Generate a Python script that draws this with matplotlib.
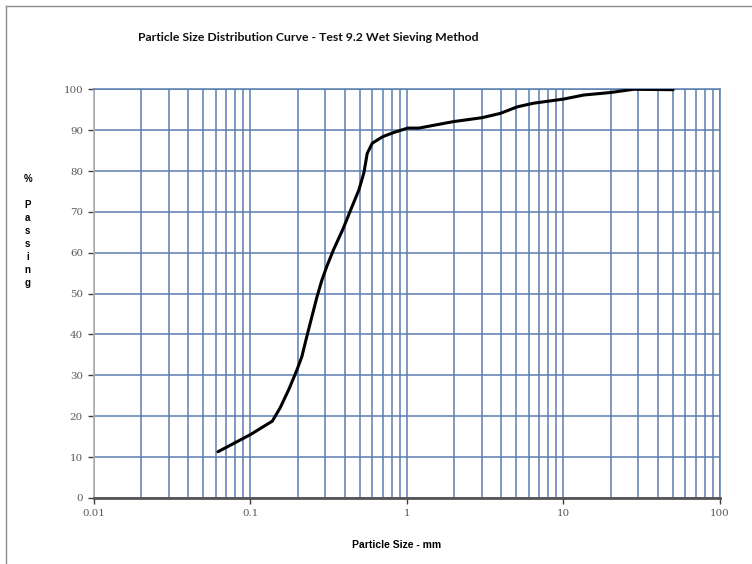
import matplotlib.pyplot as plt
from matplotlib.lines import Line2D
from matplotlib.ticker import LogLocator, FixedLocator, NullFormatter

# particle size (mm) vs % passing
size_mm = [0.062, 0.1, 0.138, 0.155, 0.176, 0.198, 0.213, 0.229, 0.247, 0.266,
           0.286, 0.307, 0.339, 0.39, 0.437, 0.493, 0.53, 0.557, 0.6, 0.7,
           0.82, 1.01, 1.19, 1.64, 1.99, 3.02, 3.95, 5.06, 6.46, 10.0,
           13.5, 19.9, 28.1, 50.2]
passing = [11.3, 15.5, 18.8, 22.1, 26.6, 31.3, 34.6, 39.5, 44.4, 49.2,
           53.3, 56.6, 60.7, 65.8, 70.5, 75.4, 79.5, 84.3, 86.8, 88.4,
           89.4, 90.5, 90.5, 91.5, 92.1, 93.05, 94.1, 95.7, 96.6, 97.6,
           98.6, 99.2, 100.0, 99.9]

x_ticks = [0.01, 0.1, 1, 10, 100]
x_tick_labels = ['0.01', '0.1', '1', '10', '100']
y_ticks = list(range(0, 101, 10))

grid_col = '#5b7fb0'
label_col = '#595959'

fig = plt.figure(figsize=(7.52, 5.64), dpi=100)
ax = fig.add_axes([0.125, 0.1172, 0.8324, 0.7245])

ax.set_xscale('log')
ax.set_xlim(0.01, 100)
ax.set_ylim(0, 100)

ax.xaxis.set_major_locator(FixedLocator(x_ticks))
ax.set_xticklabels(x_tick_labels)
ax.xaxis.set_minor_locator(LogLocator(base=10, subs=range(2, 10)))
ax.xaxis.set_minor_formatter(NullFormatter())
ax.set_yticks(y_ticks)

ax.grid(True, which='both', axis='x', color=grid_col, lw=1.1)
ax.grid(True, which='major', axis='y', color=grid_col, lw=1.1)
ax.set_axisbelow(True)

ax.tick_params(axis='x', which='minor', length=0)
ax.tick_params(axis='x', which='major', length=4, width=1, color='#404040',
               labelsize=7.4, labelcolor=label_col, pad=4)
ax.tick_params(axis='y', length=4, width=1, color='#404040',
               labelsize=7.4, labelcolor=label_col, pad=4)
for lab in ax.get_xticklabels() + ax.get_yticklabels():
    lab.set_family('DejaVu Serif')

ax.spines['left'].set_color('#b0b0b0')
ax.spines['left'].set_linewidth(1.2)
ax.spines['bottom'].set_color('#555555')
ax.spines['bottom'].set_linewidth(2)
ax.spines['top'].set_color(grid_col)
ax.spines['right'].set_color(grid_col)
ax.spines['top'].set_linewidth(1.1)
ax.spines['right'].set_linewidth(1.1)

ax.plot(size_mm, passing, color='black', lw=2.2, solid_capstyle='round',
        solid_joinstyle='round', zorder=5)

fig.text(0.184, 0.934, 'Particle Size Distribution Curve - Test 9.2 Wet Sieving Method',
         fontsize=8.8, family='Lato', fontweight='bold', color='#111111',
         ha='left', va='center')
fig.text(0.528, 0.034, 'Particle Size - mm', fontsize=7.5, fontweight='bold',
         family='Liberation Sans', ha='center', va='center')
fig.text(0.037, 0.692, '%\n\nP\na\ns\ns\ni\nn\ng', fontsize=7, fontweight='bold',
         family='Liberation Sans', ha='center', va='top', linespacing=1.38)

# outer chart border (top and left visible)
fig.add_artist(Line2D([0.008, 1.0], [0.989, 0.989], color='#8c8c8c', lw=1))
fig.add_artist(Line2D([0.008, 0.008], [0.0, 0.989], color='#8c8c8c', lw=1))

fig.savefig('out.png', dpi=100)
